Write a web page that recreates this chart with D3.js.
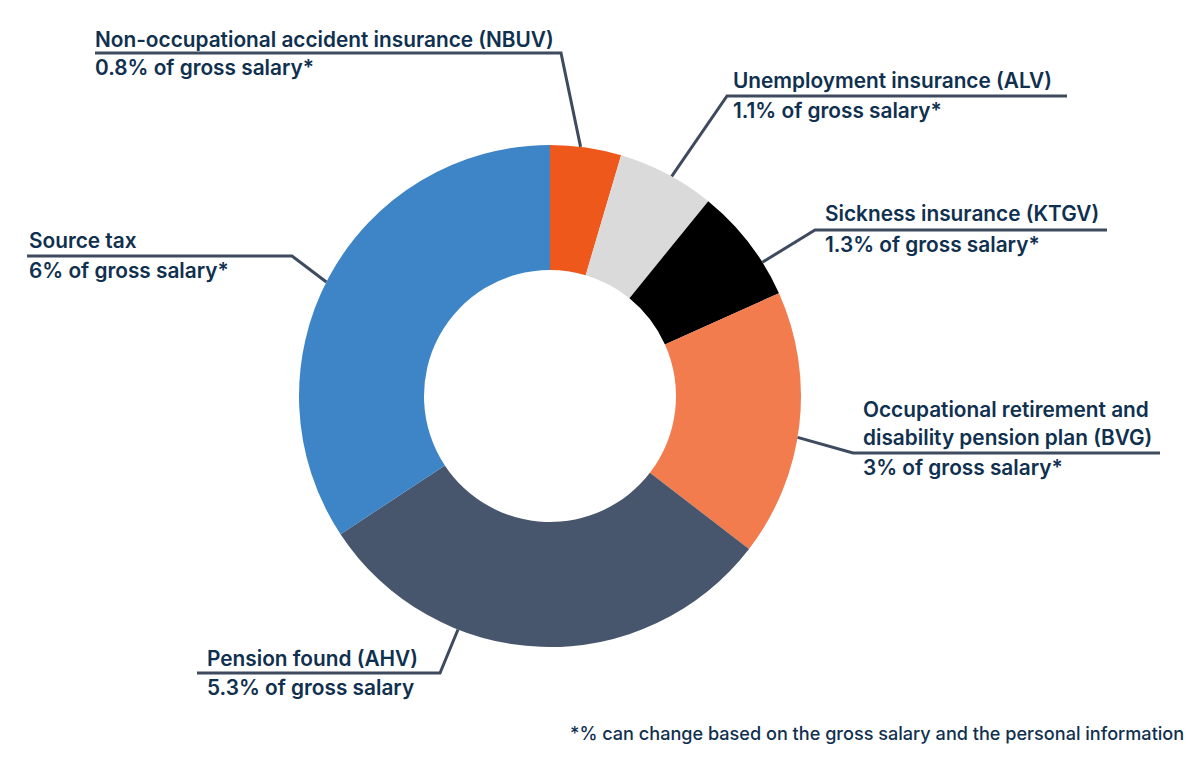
<!DOCTYPE html>
<html><head><meta charset="utf-8">
<script src="https://cdn.jsdelivr.net/npm/d3@7"></script>
<style>
html,body{margin:0;padding:0;background:#fff;}
svg text{font-family:Inter,"Noto Sans",sans-serif;fill:#10304f;}
</style></head>
<body><svg id="c" width="1200" height="778"></svg>
<script>
const categories = ["Non-occupational accident insurance (NBUV)","Unemployment insurance (ALV)","Sickness insurance (KTGV)","Occupational retirement and disability pension plan (BVG)","Pension found (AHV)","Source tax"];
const values = [0.8, 1.1, 1.3, 3, 5.3, 6];
const valueLabels = ["0.8% of gross salary*","1.1% of gross salary*","1.3% of gross salary*","3% of gross salary*","5.3% of gross salary","6% of gross salary*"];
const colors = ["#ee581a","#dadada","#000000","#f27c4e","#47566d","#3d85c6"];
const footnote = "*% can change based on the gross salary and the personal information";

// layout (positions only)
const cx = 550, cy = 396, R = 251, r = 126;
const labelLayout = [
  {lines:["Non-occupational accident insurance (NBUV)"], x:95, y0:47, ux0:95, ux1:561, uy:53, ang:7},
  {lines:["Unemployment insurance (ALV)"], x:733, y0:88, ux0:727, ux1:1067, uy:96, ang:29},
  {lines:["Sickness insurance (KTGV)"], x:825, y0:221, ux0:815, ux1:1107, uy:230, ang:57.8},
  {lines:["Occupational retirement and","disability pension plan (BVG)"], x:863, y0:417, ux0:853, ux1:1160, uy:453, ang:99.5},
  {lines:["Pension found (AHV)"], x:207, y0:666, ux0:197, ux1:440, uy:673, ang:201.5},
  {lines:["Source tax"], x:29, y0:248, ux0:27, ux1:292, uy:256, ang:297}
];

const svg = d3.select("#c");
const g = svg.append("g").attr("transform",`translate(${cx},${cy})`);
const pie = d3.pie().sort(null).value(d=>d)(values);
const arc = d3.arc().innerRadius(r).outerRadius(R);
g.selectAll("path.slice").data(pie).join("path").attr("class","slice")
  .attr("d",arc).attr("fill",(d,i)=>colors[i]);

const lineH = 27.5;
const fs = 20.8;
labelLayout.forEach((L,i)=>{
  const a = L.ang*Math.PI/180;
  const px = cx + R*Math.sin(a), py = cy - R*Math.cos(a);
  const pts = L.ux0 < cx ? [[L.ux0,L.uy],[L.ux1,L.uy],[px,py]] : [[px,py],[L.ux0,L.uy],[L.ux1,L.uy]];
  svg.append("path").attr("d",d3.line()(pts)).attr("fill","none")
    .attr("stroke","#3e4b5e").attr("stroke-width",3);
  const t = svg.append("text").attr("font-size",fs).attr("font-weight",600);
  L.lines.forEach((s,k)=>{
    t.append("tspan").attr("x",L.x).attr("y",L.y0 + k*lineH).text(s);
  });
  svg.append("text").attr("font-size",fs).attr("font-weight",600)
    .attr("x",L.x).attr("y",L.uy + 22).text(valueLabels[i]);
});

svg.append("text").attr("x",570).attr("y",740).attr("font-size",18.1).attr("font-weight",500)
  .text(footnote);
</script></body></html>
